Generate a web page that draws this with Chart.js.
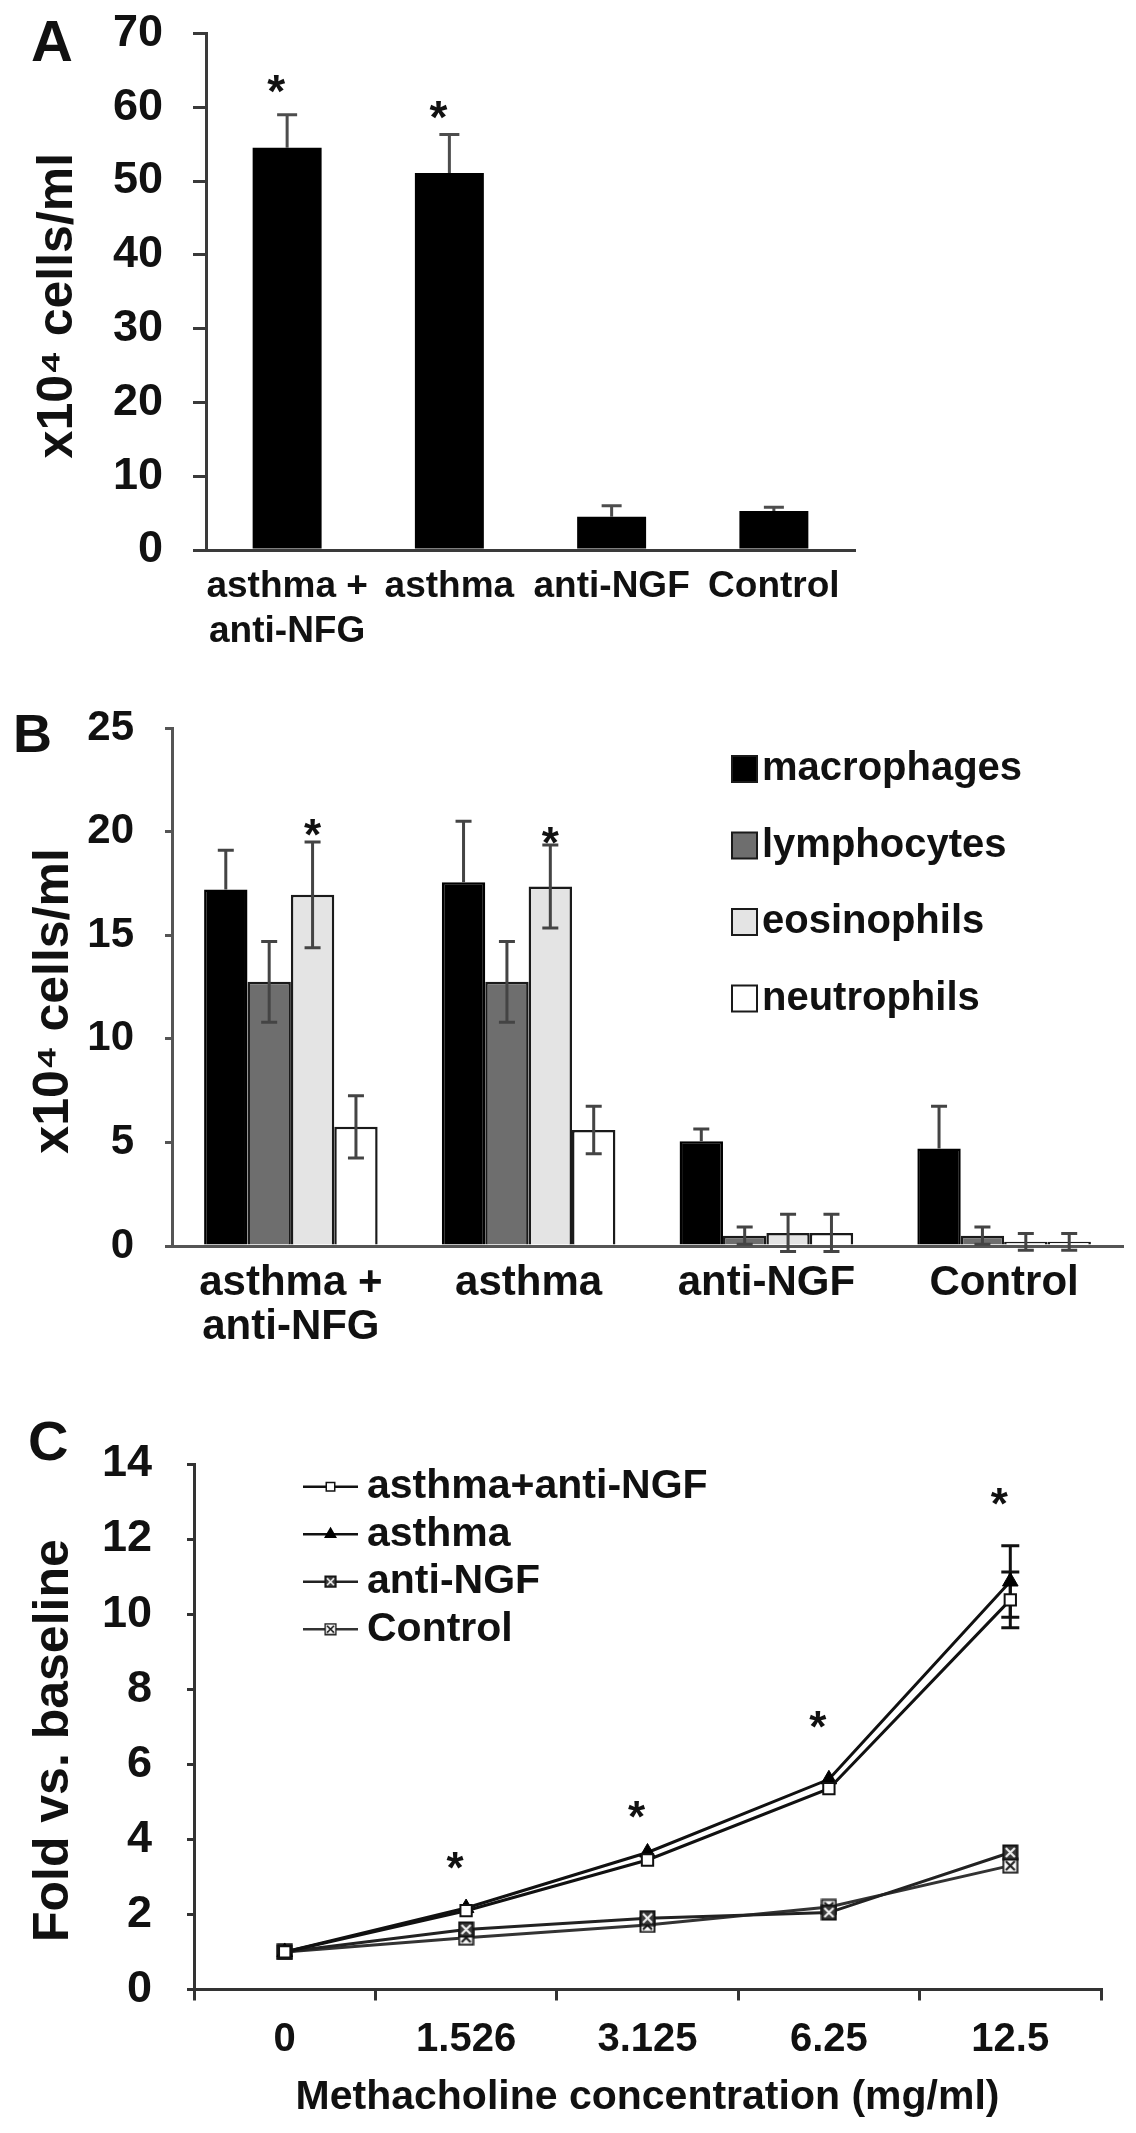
<!DOCTYPE html>
<html><head><meta charset="utf-8">
<script src="https://cdn.jsdelivr.net/npm/chart.js@4.4.1/dist/chart.umd.min.js"></script>
<style>
html,body{margin:0;padding:0;background:#fff;}
body{width:1136px;height:2133px;position:relative;overflow:hidden;font-family:'Liberation Sans',Arial,Helvetica,sans-serif;}
canvas{position:absolute;left:0;}
.lbl{position:absolute;font-weight:bold;line-height:1;color:#111;z-index:2;}
</style></head><body>
<canvas id="cA" width="1136" height="680" style="top:0px"></canvas>
<canvas id="cB" width="1136" height="720" style="top:680px"></canvas>
<canvas id="cC" width="1136" height="733" style="top:1400px"></canvas>
<div class="lbl" style="left:31px;top:12px;font-size:58px">A</div>
<div class="lbl" style="left:13px;top:706px;font-size:54px">B</div>
<div class="lbl" style="left:28px;top:1413px;font-size:56px">C</div>
<script>
// ---------------- DATA ----------------
// Panel A
const catsA = [['asthma +', 'anti-NFG'], 'asthma', 'anti-NGF', 'Control'];
const valsA = [54.5, 51.1, 4.5, 5.3];
const errA  = [4.5, 5.2, 1.5, 0.5];
const yTicksA = [0, 10, 20, 30, 40, 50, 60, 70];
const starCatsA = [0, 1];
const starValsA = [63.4, 59.9];

// Panel B
const catsB = [['asthma +', 'anti-NFG'], 'asthma', 'anti-NGF', 'Control'];
const seriesB = ['macrophages', 'lymphocytes', 'eosinophils', 'neutrophils'];
const macroB  = [17.2, 17.55, 5.05, 4.7];
const macroErrB = [1.9, 2.95, 0.6, 2.05];
const lymphB  = [12.75, 12.75, 0.5, 0.5];
const lymphErrB = [1.95, 1.95, 0.42, 0.42];
const eosB    = [16.95, 17.35, 0.63, 0.2];
const eosErrB = [2.55, 2.0, 0.9, 0.4];
const neutB   = [5.75, 5.6, 0.63, 0.2];
const neutErrB = [1.5, 1.15, 0.9, 0.4];
const yTicksB = [0, 5, 10, 15, 20, 25];
const starCatsB = [0, 1];
const starValsB = [20.3, 19.9];

// Panel C
const catsC = ['0', '1.526', '3.125', '6.25', '12.5'];
const seriesC = ['asthma+anti-NGF', 'asthma', 'anti-NGF', 'Control'];
const asthmaAntiC = [1.0, 2.1, 3.45, 5.35, 10.38];
const asthmaC     = [1.0, 2.17, 3.65, 5.6, 10.87];
const antiNGFC    = [1.0, 1.6, 1.9, 2.05, 3.65];
const controlC    = [1.0, 1.38, 1.72, 2.2, 3.3];
const asthmaAntiErrC = [null, null, null, null, 0.74];
const asthmaErrC     = [null, null, null, null, 0.95];
const yTicksC = [0, 2, 4, 6, 8, 10, 12, 14];
const starCatsC = [1, 2, 3, 4];
const starValsC = [3.48, 4.83, 7.23, 13.17];

// ---------------- HELPERS ----------------
const FONT = "'Liberation Sans', Arial, Helvetica, sans-serif";
Chart.defaults.font.family = FONT;
Chart.defaults.color = '#111';
Chart.defaults.animation = false;

function errPlugin(cfg) {
  function draw(chart) {
    const ctx = chart.ctx, ys = chart.scales.y;
    cfg.sets.forEach(s => {
      const meta = chart.getDatasetMeta(s.dataset);
      const data = chart.data.datasets[s.dataset].data;
      s.errors.forEach((e, j) => {
        if (e == null) return;
        const x = meta.data[j].x, v = data[j];
        const yt = ys.getPixelForValue(v + e);
        const yb = s.upOnly ? ys.getPixelForValue(v) : ys.getPixelForValue(v - e);
        ctx.save();
        ctx.strokeStyle = cfg.color; ctx.lineWidth = cfg.width; ctx.lineCap = 'butt';
        ctx.beginPath();
        ctx.moveTo(x, yt); ctx.lineTo(x, yb);
        ctx.moveTo(x - cfg.cap, yt); ctx.lineTo(x + cfg.cap, yt);
        if (!s.upOnly) { ctx.moveTo(x - cfg.cap, yb); ctx.lineTo(x + cfg.cap, yb); }
        ctx.stroke();
        ctx.restore();
      });
    });
  }
  return {
    id: 'err' + Math.random().toString(36).slice(2),
    beforeDatasetsDraw(chart) { if (!cfg.after) draw(chart); },
    afterDatasetsDraw(chart) { if (cfg.after) draw(chart); }
  };
}

function starPlugin(cfg) {
  return {
    id: 'star' + Math.random().toString(36).slice(2),
    afterDatasetsDraw(chart) {
      const ctx = chart.ctx, ys = chart.scales.y, xs = chart.scales.x;
      cfg.cats.forEach((c, i) => {
        let x;
        if (cfg.dataset != null) x = chart.getDatasetMeta(cfg.dataset).data[c].x;
        else x = xs.getPixelForValue(c);
        x += cfg.dx;
        const y = ys.getPixelForValue(cfg.vals[i]);
        ctx.save();
        ctx.fillStyle = '#111';
        ctx.font = 'bold ' + cfg.size + 'px ' + FONT;
        ctx.textAlign = 'center';
        ctx.textBaseline = 'alphabetic';
        ctx.fillText('*', x, y + 0.55 * cfg.size);
        ctx.restore();
      });
    }
  };
}

function boxLegendPlugin(cfg) {
  return {
    id: 'legB',
    afterDraw(chart) {
      const ctx = chart.ctx;
      chart.data.datasets.forEach((ds, i) => {
        const y = cfg.y0 + i * cfg.dy;
        ctx.save();
        ctx.fillStyle = ds.backgroundColor;
        ctx.fillRect(cfg.x, y - cfg.h / 2, cfg.w, cfg.h);
        ctx.strokeStyle = '#1a1a1a'; ctx.lineWidth = 2;
        ctx.strokeRect(cfg.x, y - cfg.h / 2, cfg.w, cfg.h);
        ctx.fillStyle = '#111';
        ctx.font = 'bold ' + cfg.size + 'px ' + FONT;
        ctx.textBaseline = 'middle'; ctx.textAlign = 'left';
        ctx.fillText(ds.label, cfg.tx, y);
        ctx.restore();
      });
    }
  };
}

function lineLegendPlugin(cfg) {
  return {
    id: 'legC',
    afterDraw(chart) {
      const ctx = chart.ctx;
      chart.data.datasets.forEach((ds, i) => {
        const y = cfg.y0 + i * cfg.dy;
        ctx.save();
        ctx.strokeStyle = ds.borderColor; ctx.lineWidth = cfg.lineWidth;
        ctx.beginPath(); ctx.moveTo(cfg.x1, y); ctx.lineTo(cfg.x2, y); ctx.stroke();
        const cx = (cfg.x1 + cfg.x2) / 2;
        const ps = ds.pointStyle;
        if (ps instanceof HTMLCanvasElement) {
          const s = cfg.imgSize;
          ctx.drawImage(ps, cx - s / 2, y - s / 2, s, s);
        } else {
          ctx.fillStyle = ds.pointBackgroundColor;
          ctx.strokeStyle = ds.pointBorderColor;
          ctx.lineWidth = 1.5;
          Chart.helpers.drawPoint(ctx, {pointStyle: ps, radius: cfg.radius, rotation: 0, borderWidth: 1.5}, cx, y);
        }
        ctx.fillStyle = '#111';
        ctx.font = 'bold ' + cfg.size + 'px ' + FONT;
        ctx.textBaseline = 'middle'; ctx.textAlign = 'left';
        ctx.fillText(ds.label, cfg.tx, y);
        ctx.restore();
      });
    }
  };
}

function makeMarker(size, fill, stroke, xColor) {
  const c = document.createElement('canvas');
  c.width = size; c.height = size;
  const g = c.getContext('2d');
  const p = 1.5;
  g.fillStyle = fill; g.fillRect(p, p, size - 2 * p, size - 2 * p);
  g.strokeStyle = stroke; g.lineWidth = 2; g.strokeRect(p, p, size - 2 * p, size - 2 * p);
  g.strokeStyle = xColor; g.lineWidth = 2.2;
  g.beginPath();
  g.moveTo(p + 2.5, p + 2.5); g.lineTo(size - p - 2.5, size - p - 2.5);
  g.moveTo(size - p - 2.5, p + 2.5); g.lineTo(p + 2.5, size - p - 2.5);
  g.stroke();
  return c;
}

// fix the y-axis width and drop its label overflow padding so the plot area
// starts exactly where the layout padding says
function fixW(w) { return s => { s.width = w; s.paddingTop = 0; s.paddingBottom = 0; }; }
function fixH(h) { return s => { s.height = h; }; }
function setTicks(arr) { return s => { s.ticks = arr.map(v => ({value: v})); }; }

// ---------------- CHART A ----------------
new Chart(document.getElementById('cA'), {
  type: 'bar',
  data: {
    labels: catsA,
    datasets: [{ data: valsA, backgroundColor: '#000', borderWidth: 0,
      categoryPercentage: 0.85, barPercentage: 0.5 }]
  },
  options: {
    responsive: false,
    layout: { padding: { left: 10, top: 33.5, right: 281, bottom: 0 } },
    plugins: { legend: { display: false }, tooltip: { enabled: false } },
    scales: {
      x: {
        grid: { display: false, drawTicks: false },
        border: { display: true, color: '#3a3a3a', width: 3 },
        ticks: { font: { size: 37, weight: 'bold', lineHeight: 1.2 }, padding: 15, color: '#111',
          maxRotation: 0, minRotation: 0, autoSkip: false },
        afterFit: fixH(130)
      },
      y: {
        min: 0, max: 70,
        afterBuildTicks: setTicks(yTicksA),
        grid: { drawOnChartArea: false, drawTicks: true, tickLength: 13, color: '#3a3a3a', lineWidth: 3 },
        border: { display: true, color: '#3a3a3a', width: 3 },
        ticks: { font: { size: 45, weight: 'bold' }, padding: 30, color: '#111' },
        title: { display: true, text: 'x10⁴ cells/ml  ', font: { size: 50, weight: 'bold' },
          padding: { top: 18, bottom: 0 }, color: '#111' },
        afterFit: fixW(196)
      }
    }
  },
  plugins: [
    errPlugin({ after: true, color: '#4d4d4d', width: 3, cap: 10,
      sets: [{ dataset: 0, errors: errA, upOnly: true }] }),
    starPlugin({ cats: starCatsA, vals: starValsA, dx: -11, size: 46 })
  ]
});

// ---------------- CHART B ----------------
const colorsB = ['#000000', '#6e6e6e', '#e4e4e4', '#ffffff'];
const valuesB = [macroB, lymphB, eosB, neutB];
new Chart(document.getElementById('cB'), {
  type: 'bar',
  data: {
    labels: catsB,
    datasets: seriesB.map((name, i) => ({
      label: name, data: valuesB[i], backgroundColor: colorsB[i],
      borderColor: i === 0 ? '#000' : '#1a1a1a', borderWidth: 2.5,
      categoryPercentage: 0.73, barPercentage: 1.0
    }))
  },
  options: {
    responsive: false,
    layout: { padding: { left: 5, top: 48, right: 13, bottom: 0 } },
    plugins: { legend: { display: false }, tooltip: { enabled: false } },
    scales: {
      x: {
        grid: { display: false, drawTicks: false },
        border: { display: true, color: '#555', width: 3 },
        ticks: { font: { size: 42, weight: 'bold', lineHeight: 1.05 }, padding: 15, color: '#111',
          maxRotation: 0, minRotation: 0, autoSkip: false },
        afterFit: fixH(154)
      },
      y: {
        min: 0, max: 25,
        afterBuildTicks: setTicks(yTicksB),
        grid: { drawOnChartArea: false, drawTicks: true, tickLength: 7, color: '#555', lineWidth: 3 },
        border: { display: true, color: '#555', width: 3 },
        ticks: { font: { size: 42, weight: 'bold' }, padding: 31, color: '#111' },
        title: { display: true, text: 'x10⁴ cells/ml  ', font: { size: 50, weight: 'bold' },
          padding: { top: 19, bottom: 0 }, color: '#111' },
        afterFit: fixW(167)
      }
    }
  },
  plugins: [
    errPlugin({ after: true, color: '#444', width: 3, cap: 8,
      sets: [
        { dataset: 0, errors: macroErrB, upOnly: true },
        { dataset: 1, errors: lymphErrB },
        { dataset: 2, errors: eosErrB },
        { dataset: 3, errors: neutErrB }
      ] }),
    starPlugin({ cats: starCatsB, vals: starValsB, dataset: 2, dx: 0, size: 44 }),
    boxLegendPlugin({ x: 732, w: 25, h: 26, tx: 762, y0: 89, dy: 76.5, size: 40 })
  ]
});

// ---------------- CHART C ----------------
const mkAnti = makeMarker(17, '#3a3a3a', '#111111', '#eeeeee');
const mkCtrl = makeMarker(17, '#fafafa', '#222222', '#222222');
new Chart(document.getElementById('cC'), {
  type: 'line',
  data: {
    labels: catsC,
    datasets: [
      { label: seriesC[0], data: asthmaAntiC, borderColor: '#111', borderWidth: 3,
        pointStyle: 'rect', pointRadius: 8, pointBackgroundColor: '#fff', pointBorderColor: '#111', pointBorderWidth: 2, tension: 0 },
      { label: seriesC[1], data: asthmaC, borderColor: '#111', borderWidth: 3,
        pointStyle: 'triangle', pointRadius: 9, pointBackgroundColor: '#000', pointBorderColor: '#000', pointBorderWidth: 1, tension: 0 },
      { label: seriesC[2], data: antiNGFC, borderColor: '#222', borderWidth: 3,
        pointStyle: mkAnti, pointRadius: 8, tension: 0 },
      { label: seriesC[3], data: controlC, borderColor: '#333', borderWidth: 3,
        pointStyle: mkCtrl, pointRadius: 8, tension: 0 }
    ]
  },
  options: {
    responsive: false,
    layout: { padding: { left: 5, top: 64, right: 35, bottom: 5 } },
    plugins: { legend: { display: false }, tooltip: { enabled: false } },
    scales: {
      x: {
        offset: true,
        grid: { display: true, offset: true, drawOnChartArea: false, drawTicks: true, tickLength: 11, color: '#333', lineWidth: 3 },
        border: { display: true, color: '#333', width: 3 },
        ticks: { font: { size: 40, weight: 'bold' }, padding: 15.5, color: '#111',
          maxRotation: 0, minRotation: 0, autoSkip: false },
        title: { display: true, text: 'Methacholine concentration (mg/ml)', font: { size: 41, weight: 'bold' },
          padding: { top: 0, bottom: 6 }, color: '#111' },
        afterFit: fixH(138.5)
      },
      y: {
        min: 0, max: 14,
        afterBuildTicks: setTicks(yTicksC),
        grid: { drawOnChartArea: false, drawTicks: true, tickLength: 7, color: '#333', lineWidth: 3 },
        border: { display: true, color: '#333', width: 3 },
        ticks: { font: { size: 45, weight: 'bold' }, padding: 35, color: '#111' },
        title: { display: true, text: 'Fold vs. baseline  ', font: { size: 50, weight: 'bold' },
          padding: { top: 19, bottom: 0 }, color: '#111' },
        afterFit: fixW(189)
      }
    }
  },
  plugins: [
    errPlugin({ after: false, color: '#111', width: 3, cap: 9,
      sets: [
        { dataset: 0, errors: asthmaAntiErrC },
        { dataset: 1, errors: asthmaErrC }
      ] }),
    starPlugin({ cats: starCatsC, vals: starValsC, dx: -11, size: 44 }),
    lineLegendPlugin({ x1: 303, x2: 358, tx: 367, y0: 86.7, dy: 47.5, size: 41, lineWidth: 2.5, radius: 6, imgSize: 13 })
  ]
});
</script>
</body></html>
